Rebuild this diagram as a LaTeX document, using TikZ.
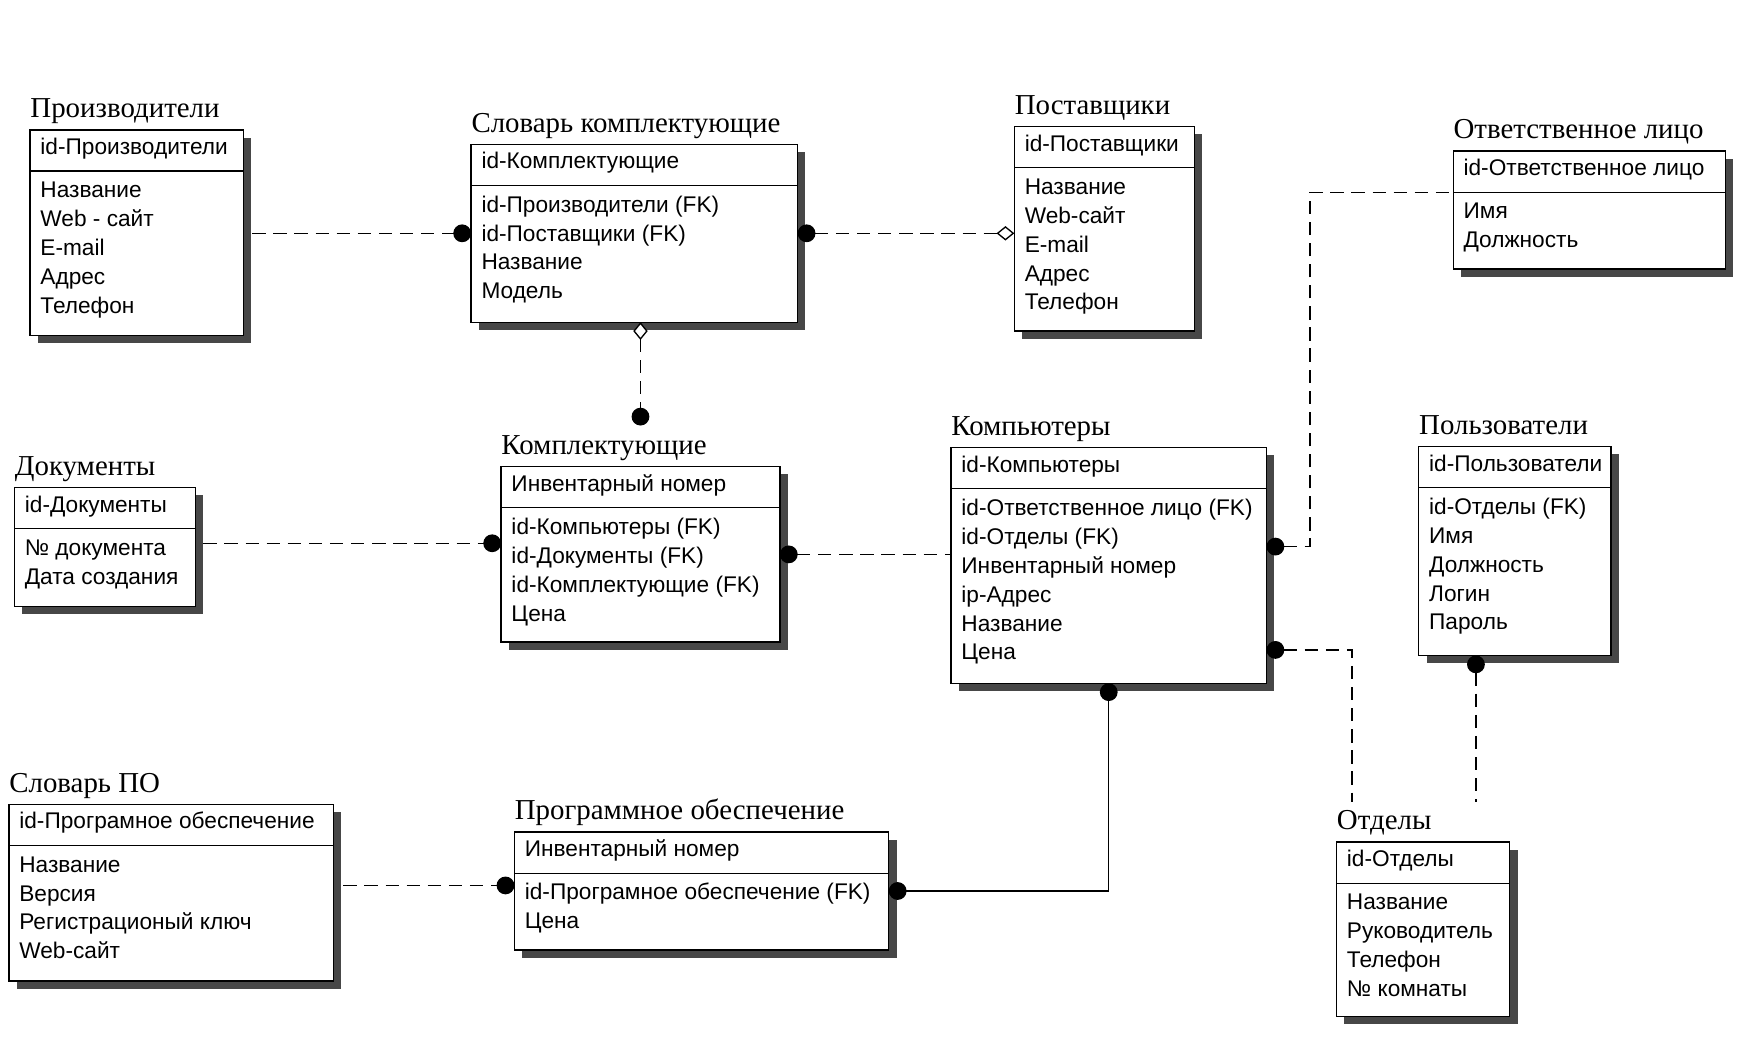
\documentclass[tikz,border=0pt]{standalone}
\usepackage{fontspec}
\setmainfont{Liberation Sans}
\newfontfamily\ttlfont{Liberation Serif}
\usetikzlibrary{calc,arrows.meta}
\tikzset{
  boxst/.style={draw, line width=0.6pt, fill=white, inner sep=0pt, outer sep=0pt},
  shadowc/.style={fill=black!72},
  divider/.style={line width=0.55pt},
  ttl/.style={inner sep=0pt, font=\ttlfont\fontsize{13}{15}\selectfont},
  attr/.style={inner sep=0pt, font=\fontsize{10.2}{12}\selectfont},
  conn/.style={line width=0.6pt, dash pattern=on 6pt off 3.5pt},
  solidc/.style={line width=0.6pt},
  dot/.tip={Circle[length=8pt]},
  dia/.tip={Diamond[length=8pt,width=6.5pt,fill=white,line width=0.6pt]}
}
% #1 name, #2 top-left, #3 width, #4 height, #5 title, #6 key, #7 rows
\newcommand\erbox[7]{%
  \fill[shadowc] ($#2+(7,7)$) rectangle ++(#3,#4);
  \node[boxst, minimum width=#3*0.5pt, minimum height=#4*0.5pt, anchor=north west] (#1) at #2 {};
  \draw[divider] ($#2+(0,37)$) -- ++(#3,0);
  \node[ttl, anchor=base west] (#1-t) at ($#2+(0,-11)$) {#5};
  \node[attr, anchor=base west] (#1-k) at ($#2+(9,22)$) {#6};
  \foreach \rr [count=\ri from 0] in {#7} {
    \node[attr, anchor=base west] (#1-r\ri) at ($#2+(9,61+26*\ri)$) {\rr};
  }
}
\begin{document}
\begin{tikzpicture}[x=0.5pt,y=-0.5pt]
\useasboundingbox[fill=white] (0,0) rectangle (1568,957);

\erbox{proizv}{(27,117)}{192}{185}{Производители}{id-Производители}{Название,Web - сайт,E-mail,Адрес,Телефон}
\erbox{slovk}{(424,130)}{294}{160}{Словарь комплектующие}{id-Комплектующие}{id-Производители (FK),id-Поставщики (FK),Название,Модель}
\erbox{postav}{(913,114)}{162}{184}{Поставщики}{id-Поставщики}{Название,Web-сайт,E-mail,Адрес,Телефон}
\erbox{otv}{(1308,136)}{245}{106}{Ответственное лицо}{id-Ответственное лицо}{Имя,Должность}
\erbox{doc}{(13,439)}{163}{107}{Документы}{id-Документы}{№ документа,Дата создания}
\erbox{komp}{(451,420)}{251}{158}{Комплектующие}{Инвентарный номер}{id-Компьютеры (FK),id-Документы (FK),id-Комплектующие (FK),Цена}
\erbox{comp}{(856,403)}{284}{212}{Компьютеры}{id-Компьютеры}{id-Ответственное лицо (FK),id-Отделы (FK),Инвентарный номер,ip-Адрес,Название,Цена}
\erbox{polz}{(1277,402)}{173}{188}{Пользователи}{id-Пользователи}{id-Отделы (FK),Имя,Должность,Логин,Пароль}
\erbox{slpo}{(8,724)}{292}{159}{Словарь ПО}{id-Програмное обеспечение}{Название,Версия,Регистрационый ключ,Web-сайт}
\erbox{po}{(463,749)}{337}{106}{Программное обеспечение}{Инвентарный номер}{id-Програмное обеспечение (FK),Цена}
\erbox{otd}{(1203,758)}{156}{157}{Отделы}{id-Отделы}{Название,Руководитель,Телефон,№ комнаты}

% connectors
\draw[conn,-dot] ($(proizv.east |- slovk.west)+(8,0)$) -- (slovk.west);
\draw[conn,dot-dia] (slovk.east) -- (slovk.east -| postav.west);
\draw[conn,dia-dot] (slovk.south -| komp.north) -- ($(komp.north)+(0,-37)$);
\draw[conn,-dot] ($(doc.east |- komp.west)+(7,-10)$) -- ($(komp.west)+(0,-10)$);
\draw[conn,dot-] (komp.east) -- (komp.east -| comp.west);
\draw[conn,dot-] ($(comp.east)+(0,-17)$) -| ($(otv.west)+(-129,-16)$) -- ($(otv.west)+(0,-16)$);
\draw[conn,dot-] ($(comp.east)+(0,76)$) -| ($(otd.north west)+(14,-36)$);
\draw[conn,dot-] ($(polz.south)+(-35,0)$) -- ++(0,132);
\draw[solidc,dot-dot] (comp.south) |- (po.east);
\draw[conn,-dot] ($(slpo.east |- po.west)+(9,-5)$) -- ($(po.west)+(0,-5)$);
\end{tikzpicture}
\end{document}
